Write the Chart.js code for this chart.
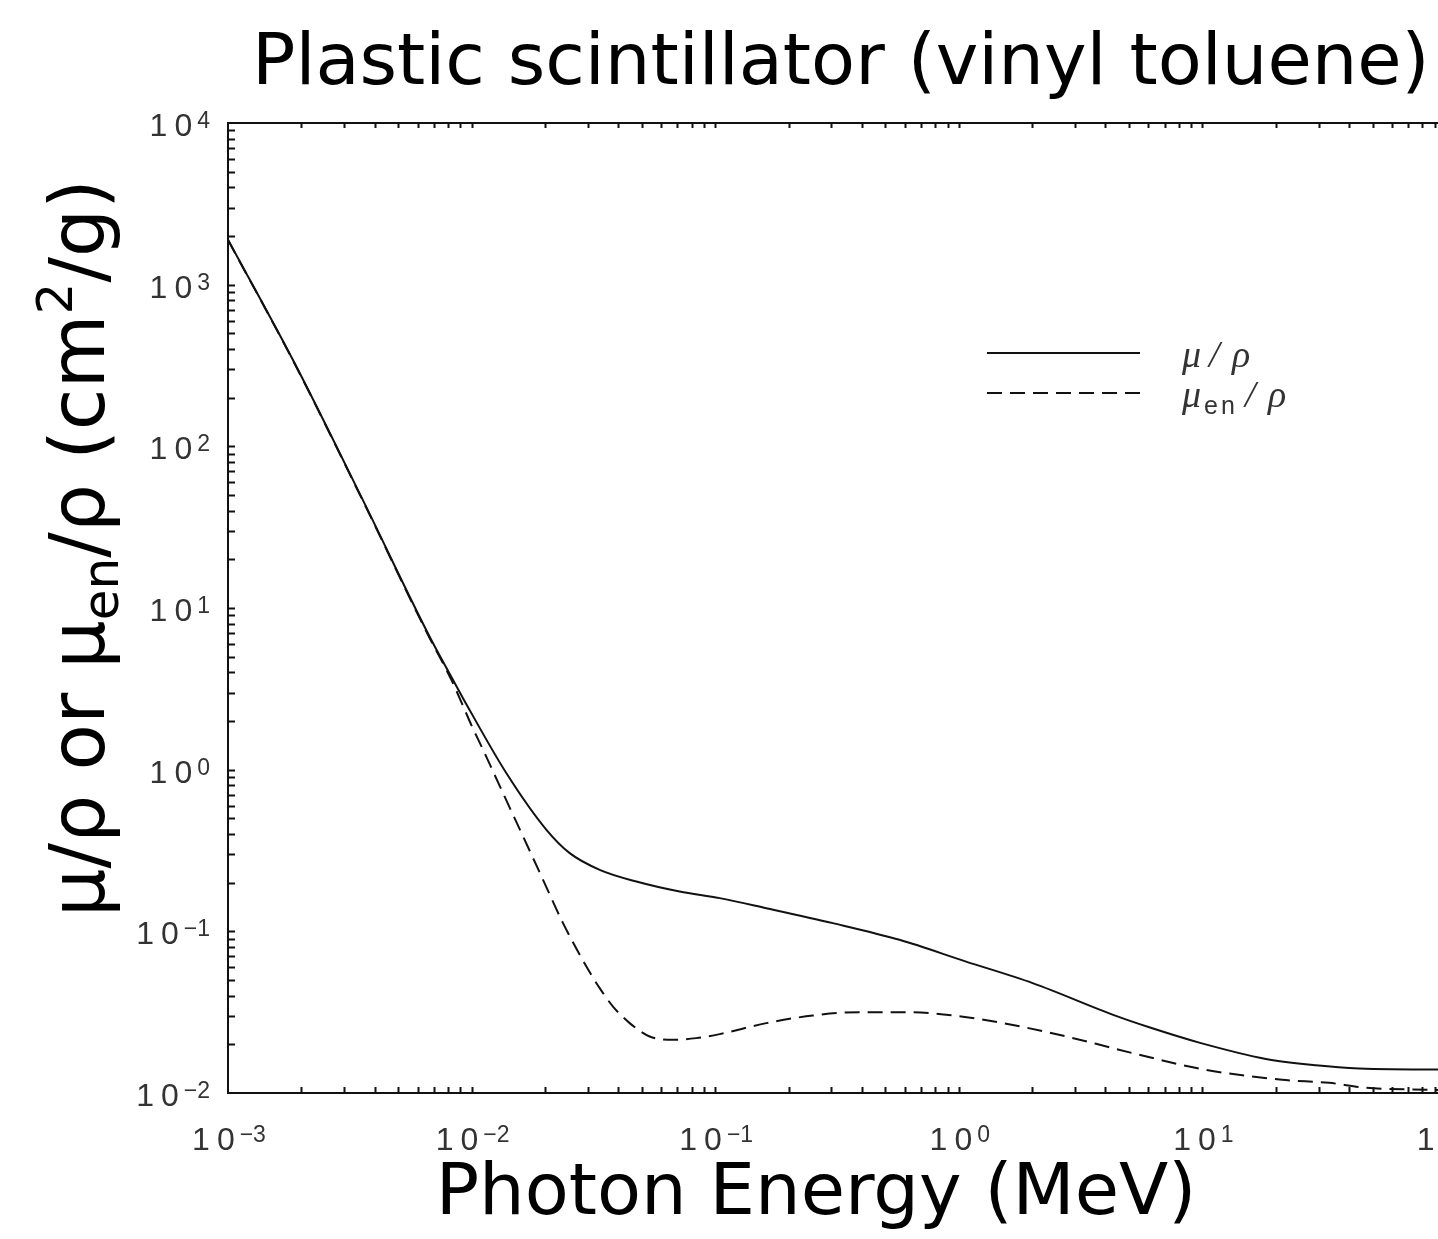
<!DOCTYPE html>
<html><head><meta charset="utf-8">
<script src="https://cdn.jsdelivr.net/npm/chart.js@4.4.1/dist/chart.umd.min.js"></script>
<style>html,body{margin:0;padding:0;overflow:hidden;background:#fff}canvas{display:block}</style>
</head><body>
<canvas id="c" width="1480" height="1239"></canvas>
<script>
// ---- data ----
const energyMu = [1.0e-3, 1.878e-3, 3.522e-3, 6.613e-3, 8.241e-3, 9.23e-3, 1.390e-2, 2.029e-2, 2.528e-2, 3.356e-2, 4.747e-2, 7.145e-2, 1.043e-1, 1.621e-1, 3.040e-1, 5.707e-1, 1.071, 2.010, 4.418, 6.05, 9.703, 18.22, 29.22, 43.98, 90.7, 100];
const muRho    = [1900, 326.6, 48.85, 6.986, 3.765, 2.76, 0.95, 0.4243, 0.3045, 0.2401, 0.2032, 0.1762, 0.1605, 0.1391, 0.1124, 0.0886, 0.0650, 0.04783, 0.0300, 0.0255, 0.0205, 0.01625, 0.01485, 0.0142, 0.0140, 0.0140];
const energyMuEn = [1.0e-3, 1.878e-3, 3.522e-3, 6.613e-3, 8.241e-3, 9.2e-3, 9.99e-3, 1.115e-2, 1.346e-2, 1.627e-2, 1.965e-2, 2.373e-2, 2.960e-2, 3.356e-2, 3.806e-2, 4.456e-2, 5.382e-2, 6.706e-2, 8.366e-2, 1.043e-1, 1.621e-1, 2.517e-1, 3.912e-1, 6.078e-1, 9.748e-1, 1.514, 2.353, 3.658, 5.505, 10.34, 21.25, 33.12, 46.84, 87.6, 100];
const muEnRho    = [1890, 324, 48.3, 6.85, 3.62, 2.5, 1.88, 1.326, 0.7155, 0.3859, 0.2083, 0.1124, 0.06058, 0.04453, 0.03427, 0.02706, 0.02235, 0.02133, 0.02185, 0.02313, 0.02706, 0.03015, 0.03164, 0.03164, 0.03002, 0.02706, 0.02366, 0.02015, 0.01723, 0.01391, 0.01207, 0.01156, 0.01077, 0.01046, 0.0104];
const xDecades = [-3, -2, -1, 0, 1, 2];
const yDecades = [-2, -1, 0, 1, 2, 3, 4];
const minorSteps = [1, 2, 3, 4, 5, 6, 7, 8, 9];
const titleText = 'Plastic scintillator (vinyl toluene)';
const xTitleText = 'Photon Energy (MeV)';
const legendNames = ['μ/ρ', 'μen/ρ'];

const toPts = (xs, ys) => xs.map((e, i) => ({x: e, y: ys[i]}));
const INK = '#111';

function expLabel(ctx, d, cx, baseY, align) {
  // draws "10" with a raised exponent
  const main = '32px "Liberation Sans"', sup = '23px "Liberation Sans"';
  const e = d < 0 ? '\u2212' + Math.abs(d) : String(d);
  ctx.font = main;
  const w1 = ctx.measureText('1').width, w0 = ctx.measureText('0').width;
  const gapD = 7, gapE = 5;
  ctx.font = sup;
  const we = ctx.measureText(e).width;
  const total = w1 + gapD + w0 + gapE + we;
  const x0 = align === 'right' ? cx - total : cx - total / 2;
  ctx.textAlign = 'left'; ctx.textBaseline = 'alphabetic';
  ctx.font = main;
  ctx.fillText('1', x0, baseY);
  ctx.fillText('0', x0 + w1 + gapD, baseY);
  ctx.font = sup;
  ctx.fillText(e, x0 + w1 + gapD + w0 + gapE, baseY - 8);
}

const decor = {
  id: 'decor',
  afterDraw(chart) {
    const {ctx, chartArea: a, scales: {x, y}} = chart;
    ctx.save();
    ctx.strokeStyle = INK; ctx.lineWidth = 2;
    ctx.beginPath();
    ctx.moveTo(a.left - 1, a.top); ctx.lineTo(a.right, a.top); ctx.lineTo(a.right, a.bottom);
    ctx.stroke();
    // inward ticks
    ctx.beginPath();
    xDecades.forEach(d => minorSteps.forEach(m => {
      const v = m * Math.pow(10, d);
      if (v <= x.min || v >= x.max) return;
      const px = Math.round(x.getPixelForValue(v)) + 0.5;
      ctx.moveTo(px, a.bottom); ctx.lineTo(px, a.bottom - 6);
      ctx.moveTo(px, a.top); ctx.lineTo(px, a.top + 5);
    }));
    yDecades.forEach(d => minorSteps.forEach(m => {
      const v = m * Math.pow(10, d);
      if (v <= y.min || v >= y.max) return;
      const py = Math.round(y.getPixelForValue(v)) + 0.5;
      ctx.moveTo(a.left, py); ctx.lineTo(a.left + 7, py);
      ctx.moveTo(a.right, py); ctx.lineTo(a.right - 7, py);
    }));
    ctx.stroke();
    // tick labels
    ctx.fillStyle = '#333';
    xDecades.forEach(d => {
      const px = x.getPixelForValue(Math.pow(10, d));
      expLabel(ctx, d, px + 1, 1150, 'center');
    });
    yDecades.forEach(d => {
      const py = y.getPixelForValue(Math.pow(10, d));
      expLabel(ctx, d, a.left - 18, py + 13, 'right');
    });
    // main title
    ctx.fillStyle = '#000';
    ctx.font = '72px "DejaVu Sans"';
    ctx.textAlign = 'left'; ctx.textBaseline = 'alphabetic';
    ctx.fillText(titleText, 252, 84);
    // x title
    ctx.textAlign = 'center';
    ctx.fillText(xTitleText, 816, 1214);
    // y title (rotated, with sub/superscripts)
    ctx.save();
    ctx.translate(104, 548);
    ctx.rotate(-Math.PI / 2);
    const big = '76px "DejaVu Sans"', small = '50px "DejaVu Sans"';
    const segs = [
      {t: 'μ/ρ or μ', f: big, dy: 0},
      {t: 'en', f: small, dy: 14},
      {t: '/ρ (cm', f: big, dy: 0},
      {t: '2', f: small, dy: -32},
      {t: '/g)', f: big, dy: 0}
    ];
    let tw = 0;
    segs.forEach(s => { ctx.font = s.f; s.w = ctx.measureText(s.t).width; tw += s.w; });
    let cx = -tw / 2;
    ctx.textAlign = 'left';
    segs.forEach(s => { ctx.font = s.f; ctx.fillText(s.t, cx, s.dy); cx += s.w; });
    ctx.restore();
    // legend
    const ds = chart.data.datasets;
    const rows = [353, 393];
    ds.forEach((dset, i) => {
      ctx.strokeStyle = dset.borderColor; ctx.lineWidth = dset.borderWidth;
      ctx.setLineDash(dset.borderDash || []);
      ctx.beginPath(); ctx.moveTo(987, rows[i]); ctx.lineTo(1140, rows[i]); ctx.stroke();
    });
    ctx.setLineDash([]);
    ctx.fillStyle = '#333';
    ctx.textAlign = 'left';
    const itf = 'italic 38px "Liberation Serif"';
    const lx0 = 1182;
    ctx.font = itf;
    ctx.fillText('μ', lx0, 367);
    ctx.fillText('/', lx0 + 27, 367);
    ctx.fillText('ρ', lx0 + 50, 367);
    ctx.fillText('μ', lx0, 407);
    ctx.fillText('/', lx0 + 63, 407);
    ctx.fillText('ρ', lx0 + 86, 407);
    ctx.font = '25px "Liberation Sans"';
    ctx.fillText('e', lx0 + 22, 414);
    ctx.fillText('n', lx0 + 39, 414);
    ctx.restore();
  }
};

new Chart(document.getElementById('c'), {
  type: 'line',
  data: {
    datasets: [
      {label: legendNames[0], data: toPts(energyMu, muRho), borderColor: INK, borderWidth: 2, pointRadius: 0, cubicInterpolationMode: 'monotone', fill: false},
      {label: legendNames[1], data: toPts(energyMuEn, muEnRho), borderColor: INK, borderWidth: 2, borderDash: [15, 8], pointRadius: 0, cubicInterpolationMode: 'monotone', fill: false}
    ]
  },
  options: {
    responsive: false, animation: false, devicePixelRatio: 1,
    layout: {padding: {left: 228, top: 123, right: 34, bottom: 146}},
    plugins: {legend: {display: false}, tooltip: {enabled: false}, title: {display: false}},
    scales: {
      x: {type: 'logarithmic', min: 1e-3, max: 1e2,
          ticks: {display: false}, grid: {display: true, drawOnChartArea: false, drawTicks: false},
          border: {display: true, color: INK, width: 2},
          afterFit(s) { s.height = 0; }},
      y: {type: 'logarithmic', min: 1e-2, max: 1e4,
          ticks: {display: false}, grid: {display: true, drawOnChartArea: false, drawTicks: false},
          border: {display: true, color: INK, width: 2},
          afterFit(s) { s.width = 0; }}
    }
  },
  plugins: [decor]
});
</script>
</body></html>
